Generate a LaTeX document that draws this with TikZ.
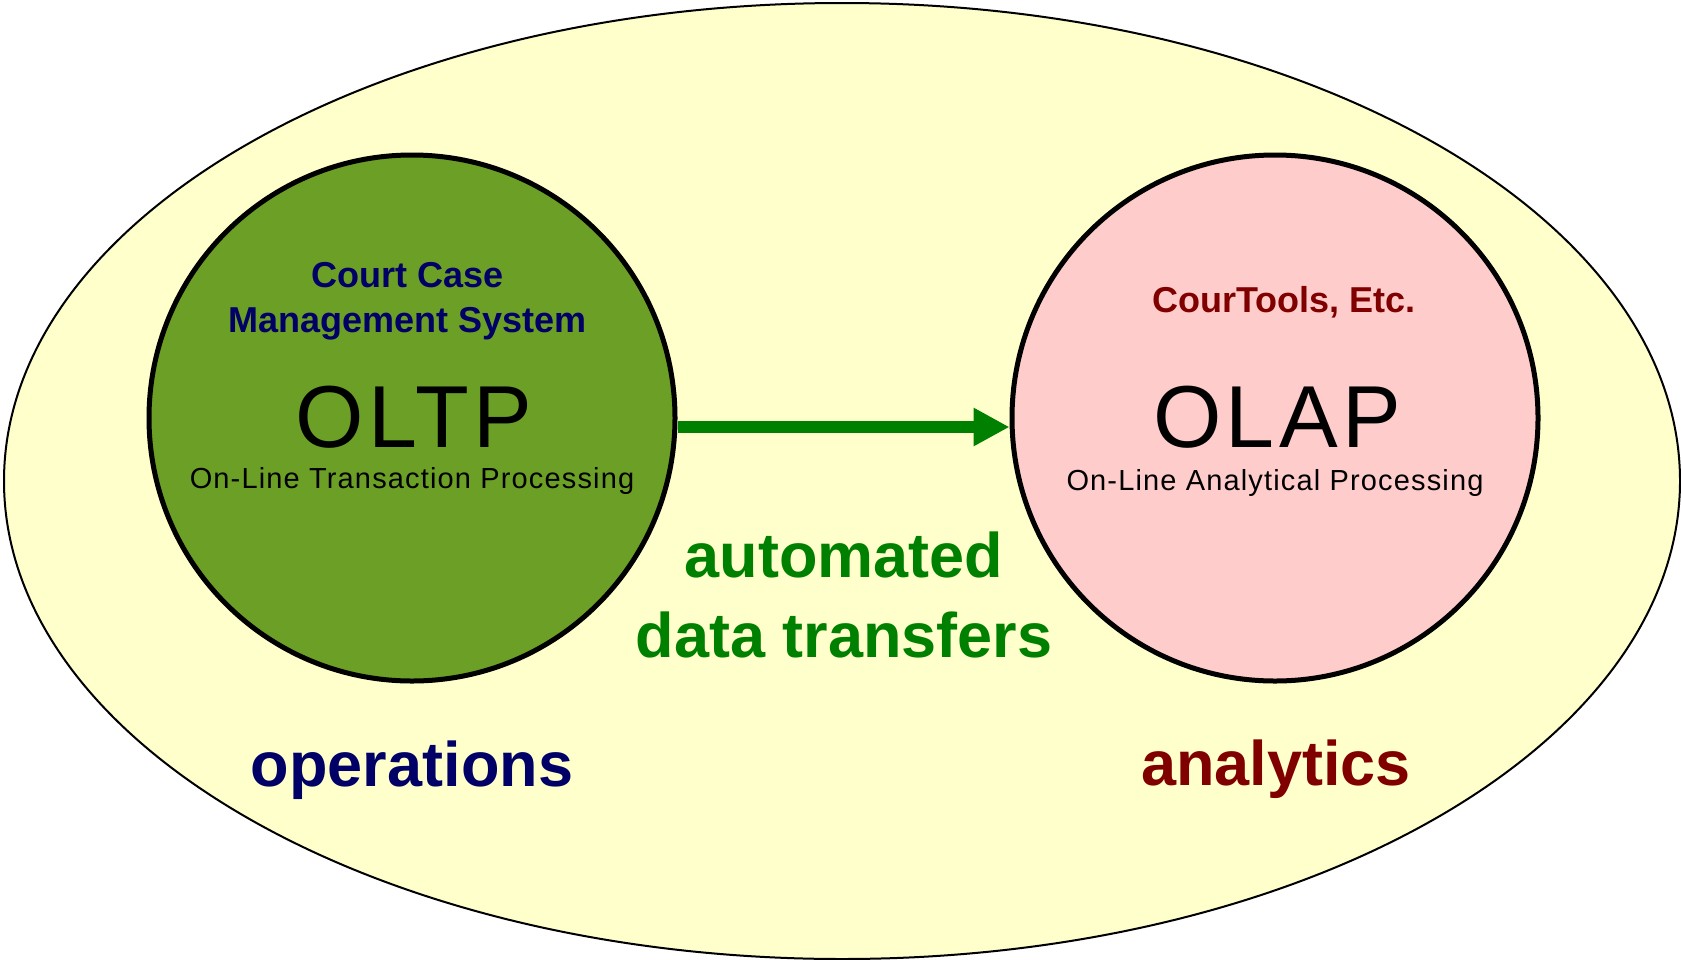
\documentclass[tikz,border=0pt]{standalone}
\usepackage{fontspec}
\setmainfont{Liberation Sans}
\newfontfamily\widefont[LetterSpace=4]{Liberation Sans}
\newfontfamily\bigwidefont[LetterSpace=5]{Liberation Sans}
\usepackage{tikz}
\usetikzlibrary{positioning}
\usetikzlibrary{arrows.meta}
\usetikzlibrary{shapes.geometric}
\definecolor{paleyellow}{RGB}{255,255,204}
\definecolor{olivegreen}{RGB}{107,159,38}
\definecolor{palepink}{RGB}{255,204,204}
\definecolor{flowgreen}{RGB}{0,128,0}
\definecolor{navy}{RGB}{0,0,102}
\definecolor{maroon}{RGB}{128,0,0}

\begin{document}
\begin{tikzpicture}[
            x = 1pt, y = -1pt, % one unit per pixel
            > = {Triangle[length=36pt, width=36pt]}, % arrow head style
            node distance = 332pt, % gap between the two systems
            inner sep = 0pt
        ]

        \tikzstyle{system}=[
            circle,
            draw = black,
            line width = 5pt,
            minimum size = 526pt
        ]
        \tikzstyle{heading}=[font=\bfseries\fontsize{36}{45}\selectfont, align=center]
        \tikzstyle{acronym}=[font=\bigwidefont\fontsize{88}{88}\selectfont, anchor=base]
        \tikzstyle{subtitle}=[font=\widefont\fontsize{29}{29}\selectfont, anchor=base]
        \tikzstyle{side}=[font=\bfseries\fontsize{63}{80}\selectfont, align=center]

        \useasboundingbox (0,0) rectangle (1681,959);

        % environment
        \node[ellipse, draw = black, line width = 2pt, fill = paleyellow,
              minimum width = 1676pt, minimum height = 956pt] (ENV) at (842,481) {};

        % systems
        \node[system, fill = olivegreen] (OLTP) at (412,418) {};
        \node[system, fill = palepink] (OLAP) [right = of OLTP] {};

        \draw[->, line width = 12pt, flowgreen]
            ([yshift=-9pt]OLTP.east) -- ([yshift=-9pt]OLAP.west);

        % texts in the systems
        \node[heading, text = navy] (CCMS) at ([xshift=-4pt, yshift=117pt]OLTP.center) {Court Case\\Management System};
        \node[acronym] (TP) at ([xshift=2pt, yshift=-29pt]OLTP.center) {OLTP};
        \node[subtitle] (TPlong) at ([yshift=-70pt]OLTP.center) {On-Line Transaction Processing};

        \node[heading, text = maroon, anchor = base] (CT) at ([xshift=9pt, yshift=106pt]OLAP.center) {CourTools, Etc.};
        \node[acronym] (AP) at ([xshift=2pt, yshift=-29pt]OLAP.center) {OLAP};
        \node[subtitle] (APlong) at ([yshift=-72pt]OLAP.center) {On-Line Analytical Processing};

        % labels
        \node[side, text = flowgreen] (TR) at (844,595) {automated\\data transfers};
        \node[side, text = navy, anchor = base] (OPS) at ([yshift=-368pt]OLTP.center) {operations};
        \node[side, text = maroon, anchor = base] (ANA) at ([xshift=1pt, yshift=-367pt]OLAP.center) {analytics};

\end{tikzpicture}
\end{document}
